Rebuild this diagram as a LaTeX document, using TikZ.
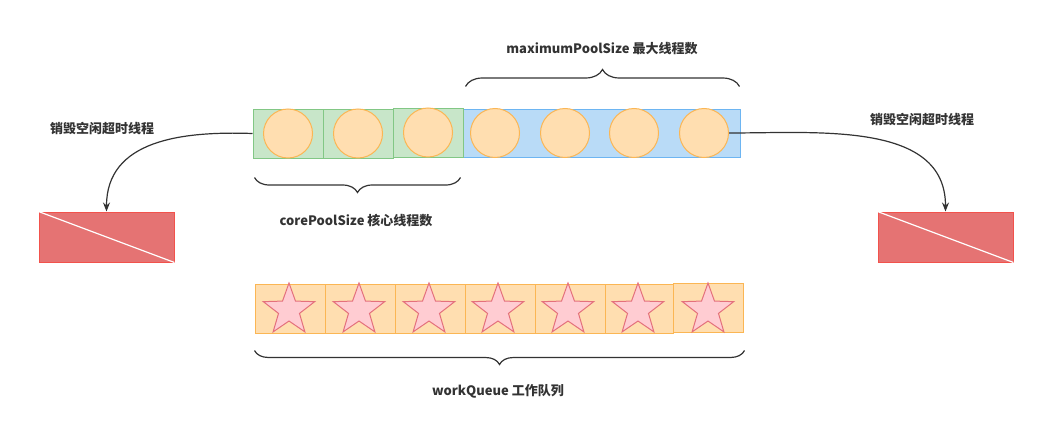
\documentclass[tikz,border=0pt]{standalone}
\usepackage{fontspec}
\setmainfont{Noto Sans CJK SC}
\usepackage{tikz}
\usetikzlibrary{shapes.geometric,positioning,decorations.pathreplacing,arrows.meta}
\definecolor{CoreFill}{HTML}{C8E6C9}
\definecolor{CoreEdge}{HTML}{82C785}
\definecolor{MaxFill}{HTML}{B9DBF7}
\definecolor{MaxEdge}{HTML}{6DB5F2}
\definecolor{BallFill}{HTML}{FFDEB0}
\definecolor{BallEdge}{HTML}{FBB654}
\definecolor{StarFill}{HTML}{FFCCD2}
\definecolor{StarEdge}{HTML}{E4707C}
\definecolor{DeadFill}{HTML}{E57373}
\definecolor{DeadEdge}{HTML}{F2524C}
\definecolor{InkDark}{HTML}{333333}

\begin{document}
\begin{tikzpicture}[
  x=1pt, y=-1pt,
  cell/.style={rectangle, inner sep=0pt, minimum width=70pt, minimum height=49pt, line width=1pt},
  gbox/.style={cell, draw=CoreEdge, fill=CoreFill},
  bbox/.style={cell, draw=MaxEdge, fill=MaxFill, minimum width=277pt, minimum height=48pt},
  qbox/.style={cell, draw=BallEdge, fill=BallFill},
  ball/.style={circle, inner sep=0pt, minimum size=49pt, draw=BallEdge, fill=BallFill, line width=1pt},
  qstar/.style={star, star points=5, star point ratio=2.45, inner sep=0pt, minimum size=54pt,
                draw=StarEdge, fill=StarFill, line width=1pt},
  deadbox/.style={rectangle, inner sep=0pt, minimum width=135pt, minimum height=50pt,
                  draw=DeadEdge, fill=DeadFill, line width=1pt},
  arr/.style={-{Stealth[length=9pt, width=7pt]}, line width=1.2pt, color=InkDark},
  brc/.style={decorate, line width=1.2pt, color=InkDark},
  lbl/.style={font=\bfseries\fontsize{13}{15}\selectfont, text=InkDark, inner sep=1pt},
]
  \useasboundingbox (0,0) rectangle (1062,420);

  % Thread pool: core + max
  \node[bbox] (maxrow) at (601.5,133) {};
  \node[gbox] (g1) at (288,133.5) {};
  \node[gbox] (g2) at (358,133.5) {};
  \node[gbox] (g3) at (428,132.5) {};
  \node[ball] (c1) at (g1) {};
  \node[ball] (c2) at (g2) {};
  \node[ball] (c3) at (g3) {};
  \node[ball] (m1) at (495,133) {};
  \node[ball] (m2) at (565,133) {};
  \node[ball] (m3) at (634,133) {};
  \node[ball] (m4) at (704,133) {};

  % Braces + labels
  \draw[brc, decoration={brace, amplitude=17pt}]
    ([xshift=3pt, yshift=22pt]maxrow.north west) -- ([xshift=-1pt, yshift=22pt]maxrow.north east);
  \node[lbl] (maxlbl) at (602,49) {maximumPoolSize 最大线程数};
  \draw[brc, decoration={brace, mirror, amplitude=15pt}]
    ([xshift=2pt, yshift=-19pt]g1.south west) -- ([xshift=-3pt, yshift=-20pt]g3.south east);
  \node[lbl] (corelbl) at (356,221) {corePoolSize 核心线程数};

  % Work queue
  \node[qbox] (q1) at (290,308.5) {};
  \node[qbox] (q2) at (360,308.5) {};
  \node[qbox] (q3) at (430,308.5) {};
  \node[qbox] (q4) at (500,308.5) {};
  \node[qbox] (q5) at (570,308.5) {};
  \node[qbox, minimum width=68pt] (q6) at (639,308.5) {};
  \node[qbox] (q7) at (708,307.5) {};
  \node[qstar] (s1) at (289,310) {};
  \node[qstar] (s2) at (359,310) {};
  \node[qstar] (s3) at (429,310) {};
  \node[qstar] (s4) at (498,310) {};
  \node[qstar] (s5) at (568,310) {};
  \node[qstar] (s6) at (638,310) {};
  \node[qstar] (s7) at (708,310) {};
  \draw[brc, decoration={brace, mirror, amplitude=14pt}]
    ([yshift=-17pt]q1.south west) -- ([xshift=1pt, yshift=-18pt]q7.south east);
  \node[lbl] (queuelbl) at (498,391) {workQueue 工作队列};

  % Destroyed idle threads
  \node[deadbox] (deadL) at (106.5,237) {};
  \draw[white, line width=1.2pt] (deadL.north west) -- (deadL.south east);
  \node[lbl] (killL) at (102,129) {销毁空闲超时线程};
  \node[deadbox] (deadR) at (945.5,237) {};
  \draw[white, line width=1.2pt] (deadR.north west) -- (deadR.south east);
  \node[lbl] (killR) at (922,120) {销毁空闲超时线程};

  % Arrows
  \draw[arr] (g1.west) to[out=178, in=90, looseness=1.1] (deadL.north);
  \draw[arr] (m4.east) to[out=0, in=90] (deadR.north);
\end{tikzpicture}
\end{document}
